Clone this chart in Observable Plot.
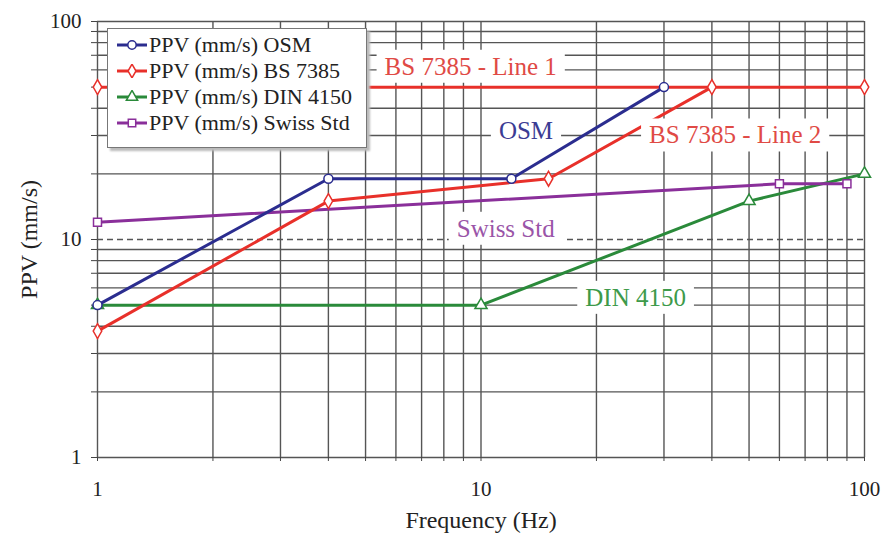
<!DOCTYPE html>
<html>
<head>
<meta charset="utf-8">
<script src="https://cdn.jsdelivr.net/npm/d3@7"></script>
<script src="https://cdn.jsdelivr.net/npm/@observablehq/plot@0.6"></script>
<style>
  html, body { margin: 0; padding: 0; background: #fff; }
  #wrap { position: relative; width: 890px; height: 541px; font-family: "Liberation Serif", "Times New Roman", serif; }
  #legend { position: absolute; left: 107px; top: 28px; width: 260px; height: 120px; background: #fff;
    border: 1.5px solid #777; box-shadow: 3px 3px 2px #bbb; box-sizing: border-box; }
  .row { position: absolute; left: 8px; height: 24px; display: flex; align-items: center; font-size: 22px; color: #222;
    font-family: "Liberation Serif", "Times New Roman", serif; white-space: nowrap; }
  .row svg { margin-right: 1px; }
</style>
</head>
<body>
<div id="wrap"></div>
<script>
// ---- data ----
const osmFreq = [1, 4, 12, 30];
const osmPPV  = [5, 19, 19, 50];
const bsLine1Freq = [1, 100];
const bsLine1PPV  = [50, 50];
const bsLine2Freq = [1, 4, 15, 40];
const bsLine2PPV  = [3.8, 15, 19, 50];
const dinFreq = [1, 10, 50, 100];
const dinPPV  = [5, 5, 15, 20];
const swissFreq = [1, 60, 90];
const swissPPV  = [12, 18, 18];

const seriesNames = ["PPV (mm/s) OSM", "PPV (mm/s) BS 7385", "PPV (mm/s) DIN 4150", "PPV (mm/s) Swiss Std"];
const seriesColors = ["#2b2d8f", "#e8302a", "#2a8a3a", "#8a2f9a"];
const seriesSymbols = ["circle", "diamond", "triangle", "square"];

const annLabels = ["BS 7385 - Line 1", "OSM", "BS 7385 - Line 2", "Swiss Std", "DIN 4150"];
const annFreq   = [9.4, 13.1, 46, 11.6, 25.3];
const annPPV    = [62, 31.6, 30, 11.2, 5.4];
const annColors = ["#e04a45", "#3b3c94", "#e04a45", "#9a55a8", "#3d9a4a"];

const decadeTicks = [1, 10, 100];
const gridTicks = [];
for (const d of [1, 10]) for (let k = 1; k <= 9; k++) gridTicks.push(d * k);
gridTicks.push(100);

const FONT = "'Liberation Serif', 'Times New Roman', serif";

// ---- build tables ----
const mk = (fs, vs, s) => fs.map((f, i) => ({f, v: vs[i], s}));
const osm = mk(osmFreq, osmPPV, 0);
const bs1 = mk(bsLine1Freq, bsLine1PPV, 1);
const bs2 = mk(bsLine2Freq, bsLine2PPV, 1);
const din = mk(dinFreq, dinPPV, 2);
const swiss = mk(swissFreq, swissPPV, 3);
const anns = annLabels.map((t, i) => ({t, f: annFreq[i], v: annPPV[i], c: annColors[i]}));

const lineOpts = (i) => ({x: "f", y: "v", stroke: seriesColors[i], strokeWidth: 3});
const dotOpts = (i) => ({x: "f", y: "v", symbol: () => seriesSymbols[i], r: 4.5, fill: "white", stroke: seriesColors[i], strokeWidth: 1.5});

const plot = Plot.plot({
  width: 890, height: 541,
  marginLeft: 97, marginRight: 26, marginTop: 21, marginBottom: 84,
  style: {fontFamily: FONT, fontSize: "21px", color: "#222", background: "white"},
  x: {type: "log", domain: [1, 100]},
  y: {type: "log", domain: [1, 100]},
  symbol: {type: "identity"},
  marks: [
    Plot.ruleX(gridTicks, {stroke: "#555", strokeWidth: 1.4}),
    Plot.ruleY(gridTicks.filter(d => d !== 10), {stroke: "#555", strokeWidth: 1.4}),
    Plot.ruleY([10], {stroke: "#555", strokeWidth: 1.4, strokeDasharray: "6,4"}),
    Plot.axisX({ticks: gridTicks, tickSize: 4, tickPadding: 20, stroke: "#444", fontSize: 21, label: null,
      tickFormat: d => decadeTicks.includes(d) ? String(d) : ""}),
    Plot.axisX({ticks: [], label: "Frequency (Hz)", labelAnchor: "center", labelArrow: "none", labelOffset: 70, fontSize: 24}),
    Plot.axisY({ticks: gridTicks, tickSize: 6, tickPadding: 10, stroke: "#444", fontSize: 21, label: null,
      tickFormat: d => decadeTicks.includes(d) ? String(d) : ""}),
    Plot.axisY({ticks: [], label: "PPV (mm/s)", labelAnchor: "center", labelArrow: "none", labelOffset: 78, fontSize: 24}),
    Plot.line(bs1, lineOpts(1)),
    Plot.line(din, lineOpts(2)),
    Plot.line(swiss, lineOpts(3)),
    Plot.line(bs2, lineOpts(1)),
    Plot.line(osm, lineOpts(0)),
    Plot.dot(bs1, dotOpts(1)),
    Plot.dot(din, dotOpts(2)),
    Plot.dot(swiss, dotOpts(3)),
    Plot.dot(bs2, dotOpts(1)),
    Plot.dot(osm, dotOpts(0)),
    Plot.text(anns, {x: "f", y: "v", text: "t", fill: "c", fontSize: 25, fontFamily: FONT})
  ]
});

const wrap = document.getElementById("wrap");
wrap.appendChild(plot);

// white boxes behind annotation labels
d3.select(plot).selectAll("text")
  .filter(function() { return annLabels.includes(this.textContent); })
  .each(function() {
    const b = this.getBBox();
    const r = document.createElementNS("http://www.w3.org/2000/svg", "rect");
    r.setAttribute("x", b.x - 8);
    r.setAttribute("y", b.y - 3);
    r.setAttribute("width", b.width + 16);
    r.setAttribute("height", b.height + 6);
    r.setAttribute("fill", "white");
    const t = this.getAttribute("transform");
    if (t) r.setAttribute("transform", t);
    this.parentNode.insertBefore(r, this);
  });

// legend
const legend = document.createElement("div");
legend.id = "legend";
const symMap = {circle: d3.symbolCircle, diamond: d3.symbolDiamond, triangle: d3.symbolTriangle, square: d3.symbolSquare};
seriesNames.forEach((name, i) => {
  const row = document.createElement("div");
  row.className = "row";
  row.style.top = (4 + i * 26) + "px";
  const sw = d3.create("svg").attr("width", 32).attr("height", 14);
  sw.append("line").attr("x1", 1).attr("x2", 31).attr("y1", 7).attr("y2", 7)
    .attr("stroke", seriesColors[i]).attr("stroke-width", 3);
  sw.append("path").attr("transform", "translate(16,7)")
    .attr("d", d3.symbol(symMap[seriesSymbols[i]], 55)())
    .attr("fill", "white").attr("stroke", seriesColors[i]).attr("stroke-width", 1.5);
  row.appendChild(sw.node());
  const span = document.createElement("span");
  span.textContent = name;
  row.appendChild(span);
  legend.appendChild(row);
});
wrap.appendChild(legend);
</script>
</body>
</html>
